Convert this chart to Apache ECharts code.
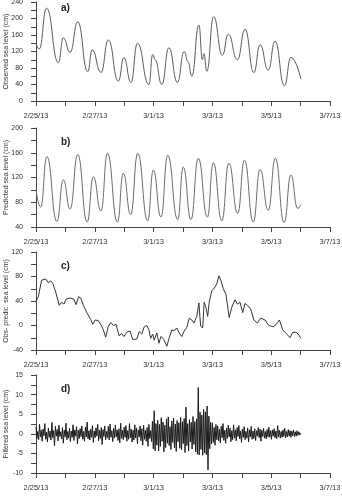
<!DOCTYPE html>
<html>
<head>
<meta charset="utf-8">
<script src="https://cdn.jsdelivr.net/npm/echarts@6/dist/echarts.min.js"></script>
<style>
    html, body { margin: 0; padding: 0; background: #fff; }
    #chart { width: 342px; height: 502px; }
</style>
</head>
<body>
<div id="chart"></div>
<script>
// days since 2/25/13 00:00
const dateLabels = ["2/25/13", "2/27/13", "3/1/13", "3/3/13", "3/5/13", "3/7/13"];

// a) observed sea level (cm)
const observedDays = [0.00, 0.11, 0.36, 0.76, 0.93, 1.16, 1.42, 1.76, 1.91, 2.21,
    2.46, 2.80, 2.99, 3.23, 3.45, 3.84, 3.97, 4.05, 4.28, 4.52,
    4.81, 5.04, 5.17, 5.30, 5.54, 5.66, 5.71, 5.81, 6.04, 6.34,
    6.54, 6.85, 7.11, 7.41, 7.62, 7.90, 8.13, 8.45, 8.67, 9.01];
const observedLevel = [140, 126, 225, 93, 153, 118, 192, 71, 124, 69,
    148, 48, 105, 45, 140, 40, 113, 100, 40, 129,
    45, 120, 95, 60, 184, 100, 115, 72, 204, 111,
    162, 100, 174, 69, 136, 75, 145, 37, 106, 53];

// b) predicted sea level (cm)
const predictedDays = [0.00, 0.16, 0.37, 0.71, 0.93, 1.16, 1.42, 1.74, 1.95, 2.21,
    2.43, 2.77, 2.97, 3.22, 3.46, 3.80, 3.99, 4.25, 4.48, 4.82,
    5.01, 5.27, 5.52, 5.83, 6.03, 6.32, 6.56, 6.86, 7.09, 7.39,
    7.62, 7.90, 8.14, 8.44, 8.67, 8.90, 9.01];
const predictedLevel = [100, 72, 154, 49, 116, 69, 157, 48, 121, 66,
    159, 48, 127, 60, 159, 50, 132, 56, 156, 52,
    137, 52, 151, 56, 144, 50, 143, 62, 148, 48,
    133, 67, 151, 47, 124, 70, 76];

// c) observed - predicted (cm)
const residualDays = [0.00, 0.08, 0.19, 0.25, 0.33, 0.42, 0.50, 0.57, 0.62, 0.68,
    0.79, 0.87, 0.95, 1.02, 1.16, 1.21, 1.29, 1.36, 1.45, 1.52,
    1.61, 1.74, 1.86, 1.93, 2.01, 2.12, 2.21, 2.29, 2.37, 2.46,
    2.55, 2.63, 2.72, 2.83, 2.91, 2.99, 3.09, 3.20, 3.29, 3.43,
    3.51, 3.60, 3.67, 3.77, 3.84, 3.90, 3.97, 4.02, 4.11, 4.18,
    4.25, 4.35, 4.45, 4.53, 4.62, 4.69, 4.79, 4.87, 4.96, 5.04,
    5.13, 5.21, 5.30, 5.37, 5.47, 5.54, 5.60, 5.67, 5.72, 5.78,
    5.84, 5.89, 5.98, 6.05, 6.15, 6.22, 6.29, 6.37, 6.46, 6.57,
    6.66, 6.77, 6.85, 6.94, 7.03, 7.11, 7.19, 7.30, 7.41, 7.53,
    7.64, 7.79, 7.90, 7.98, 8.07, 8.16, 8.28, 8.39, 8.53, 8.64,
    8.73, 8.84, 8.92, 9.01];
const residualLevel = [40, 47, 74, 72, 76, 70, 73, 69, 72, 53,
    33, 38, 35, 43, 45, 48, 43, 34, 47, 45,
    33, 20, 10, 2, 9, 8, 1, -7, -19, -1,
    5, 0, 2, -17, -13, -18, -11, -9, -23, -22,
    -10, -14, -3, 0, -7, -21, -14, -24, -12, -29,
    -18, -23, -34, -20, -7, -9, -4, -12, -18, -9,
    -3, 12, 9, 4, 15, 37, -1, -4, 38, 30,
    15, 38, 57, 60, 68, 81, 74, 60, 51, 13,
    30, 42, 35, 38, 21, 36, 33, 27, 9, 4,
    12, 9, 1, -1, -2, 1, 9, -7, -14, -20,
    -11, -11, -14, -21];

// d) filtered sea level (cm), one value every 0.03 day
const filteredStep = 0.03;
const filteredLevel = [
    1.8, -1.2, 0.6, -1.5, 2.4, -0.8, 0.9, -1.9, 1.2, -0.5,
    2.6, -1.4, 0.4, -2.1, 1.5, -0.9, 0.7, -1.6, 2.9, -1.0,
    0.8, -3.1, 1.9, -0.6, 1.1, -1.8, 2.2, -0.7, 0.5, -1.3,
    1.6, -2.4, 0.9, -0.8, 2.7, -1.5, 0.6, -1.1, 1.4, -2.0,
    0.7, -0.9, 2.3, -1.7, 1.0, -0.6, 1.8, -2.6, 0.9, -1.2,
    1.3, -0.7, 2.0, -1.4, 0.6, -1.9, 1.7, -0.8, 3.0, -1.3,
    0.8, -1.6, 1.2, -0.9, 2.1, -2.2, 0.7, -1.0, 1.5, -0.6,
    2.4, -1.8, 0.9, -1.2, 1.6, -2.7, 1.1, -0.7, 2.0, -1.5,
    0.6, -1.0, 1.9, -1.6, 2.5, -0.9, 0.8, -2.0, 1.4, -1.1,
    2.2, -0.8, 1.0, -1.7, 1.3, -2.3, 2.7, -1.2, 0.9, -1.5,
    1.7, -0.9, 2.1, -1.9, 0.8, -1.4, 2.6, -1.0, 1.2, -2.1,
    0.9, -1.6, 2.3, -1.1, 1.5, -2.5, 1.0, -0.8, 2.0, -1.8,
    1.3, -2.9, 2.2, -1.4, 0.9, -1.9, 1.6, -3.2, 2.4, -1.2,
    0.8, -2.0, 3.2, -3.8, 5.9, -4.3, 2.6, -2.9, 3.5, -4.4,
    2.4, -3.2, 4.1, -1.9, 3.0, -4.6, 2.2, -3.5, 3.8, -2.4,
    4.3, -3.0, 1.8, -4.0, 3.3, -2.2, 4.0, -3.6, 2.5, -4.5,
    3.4, -2.0, 2.8, -3.7, 4.2, -4.1, 3.1, -2.5, 3.9, -4.8,
    6.8, -3.0, 2.6, -4.4, 3.6, -2.1, 2.9, -3.9, 4.4, -2.7,
    3.1, -4.6, 3.8, -5.2, 11.8, -5.4, 5.5, -4.0, 4.8, -5.5,
    6.2, -4.9, 5.6, -5.3, 7.1, -9.2, 4.5, -3.8, 3.0, -2.6,
    2.8, -2.2, 1.6, -2.9, 2.4, -1.5, 2.0, -1.8, 1.2, -2.3,
    1.9, -1.0, 2.6, -1.7, 0.9, -2.4, 1.5, -1.2, 2.2, -0.8,
    1.4, -2.0, 0.8, -1.5, 2.3, -1.1, 1.0, -1.8, 1.6, -0.7,
    2.1, -1.3, 0.7, -2.2, 1.2, -0.9, 1.8, -1.5, 0.6, -1.1,
    1.5, -2.1, 1.0, -0.8, 1.9, -1.4, 0.7, -1.2, 1.3, -1.7,
    0.8, -0.6, 1.6, -1.0, 1.2, -1.9, 0.9, -0.7, 1.4, -1.1,
    0.6, -1.3, 1.1, -0.8, 1.7, -0.9, 0.8, -1.4, 1.0, -0.6,
    1.3, -1.0, 0.7, -1.2, 2.1, -0.8, 0.9, -1.1, 0.6, -0.9,
    1.0, -0.7, 1.4, -1.0, 0.6, -0.8, 1.1, -0.6, 0.8, -0.9,
    0.7, -0.5, 1.0, -0.7, 0.5, -0.6, 0.8, -0.4, 0.5, -0.3, 0.2
];

const font = "Liberation Sans";
const axisColor = "#444";
const textColor = "#333";

const panels = [
    {
        tag: "a)", name: "Observed sea level (cm)", top: 2, height: 99,
        min: 0, max: 240, interval: 40, color: "#5a5a5a", smooth: true,
        data: observedDays.map((d, i) => [d, observedLevel[i]])
    },
    {
        tag: "b)", name: "Predicted sea level (cm)", top: 128, height: 99,
        min: 40, max: 200, interval: 40, color: "#6a6a6a", smooth: true,
        data: predictedDays.map((d, i) => [d, predictedLevel[i]])
    },
    {
        tag: "c)", name: "Obs- predic. sea level (cm)", top: 252, height: 98,
        min: -40, max: 120, interval: 40, color: "#333", smooth: false,
        data: residualDays.map((d, i) => [d, residualLevel[i]])
    },
    {
        tag: "d)", name: "Filtered sea level (cm)", top: 375, height: 98,
        min: -10, max: 15, interval: 5, color: "#1a1a1a", smooth: false,
        data: filteredLevel.map((v, i) => [+(i * filteredStep).toFixed(2), v])
    }
];

const grid = [];
const xAxis = [];
const yAxis = [];
const series = [];
const graphic = [];

panels.forEach((p, i) => {
    grid.push({ left: 36, right: 12, top: p.top, height: p.height, outerBoundsMode: "none", containLabel: false });

    xAxis.push({
        type: "value",
        gridIndex: i,
        min: 0,
        max: 10,
        interval: 2,
        axisLine: { show: true, onZero: false, lineStyle: { color: axisColor, width: 1 } },
        axisTick: { show: true, length: 5, lineStyle: { color: axisColor } },
        minorTick: { show: true, splitNumber: 2, length: 5, lineStyle: { color: axisColor } },
        splitLine: { show: false },
        axisLabel: {
            margin: 11,
            fontFamily: font,
            fontSize: 7.5,
            color: textColor,
            hideOverlap: false,
            formatter: v => dateLabels[Math.round(v / 2)]
        }
    });

    yAxis.push({
        type: "value",
        gridIndex: i,
        min: p.min,
        max: p.max,
        interval: p.interval,
        name: p.name,
        nameLocation: "middle",
        nameGap: 26,
        nameMoveOverlap: false,
        nameTextStyle: { fontFamily: font, fontSize: 7, color: textColor },
        axisLine: { show: true, onZero: false, lineStyle: { color: axisColor, width: 1 } },
        axisTick: { show: true, length: 5, lineStyle: { color: axisColor } },
        minorTick: { show: true, splitNumber: 2, length: 5, lineStyle: { color: axisColor } },
        splitLine: { show: false },
        axisLabel: { margin: 13, fontFamily: font, fontSize: 7, color: textColor }
    });

    series.push({
        type: "line",
        xAxisIndex: i,
        yAxisIndex: i,
        data: p.data,
        showSymbol: false,
        symbol: "none",
        smooth: p.smooth ? 0.5 : false,
        smoothMonotone: p.smooth ? "x" : undefined,
        lineStyle: { color: p.color, width: 1 },
        animation: false
    });

    graphic.push({
        type: "text",
        left: 61,
        top: p.top + (i === 0 ? 1 : 9),
        style: { text: p.tag, font: "bold 10px " + font, fill: "#222" }
    });
});

const chart = echarts.init(document.getElementById("chart"));
chart.setOption({ animation: false, grid, xAxis, yAxis, series, graphic });
</script>
</body>
</html>
